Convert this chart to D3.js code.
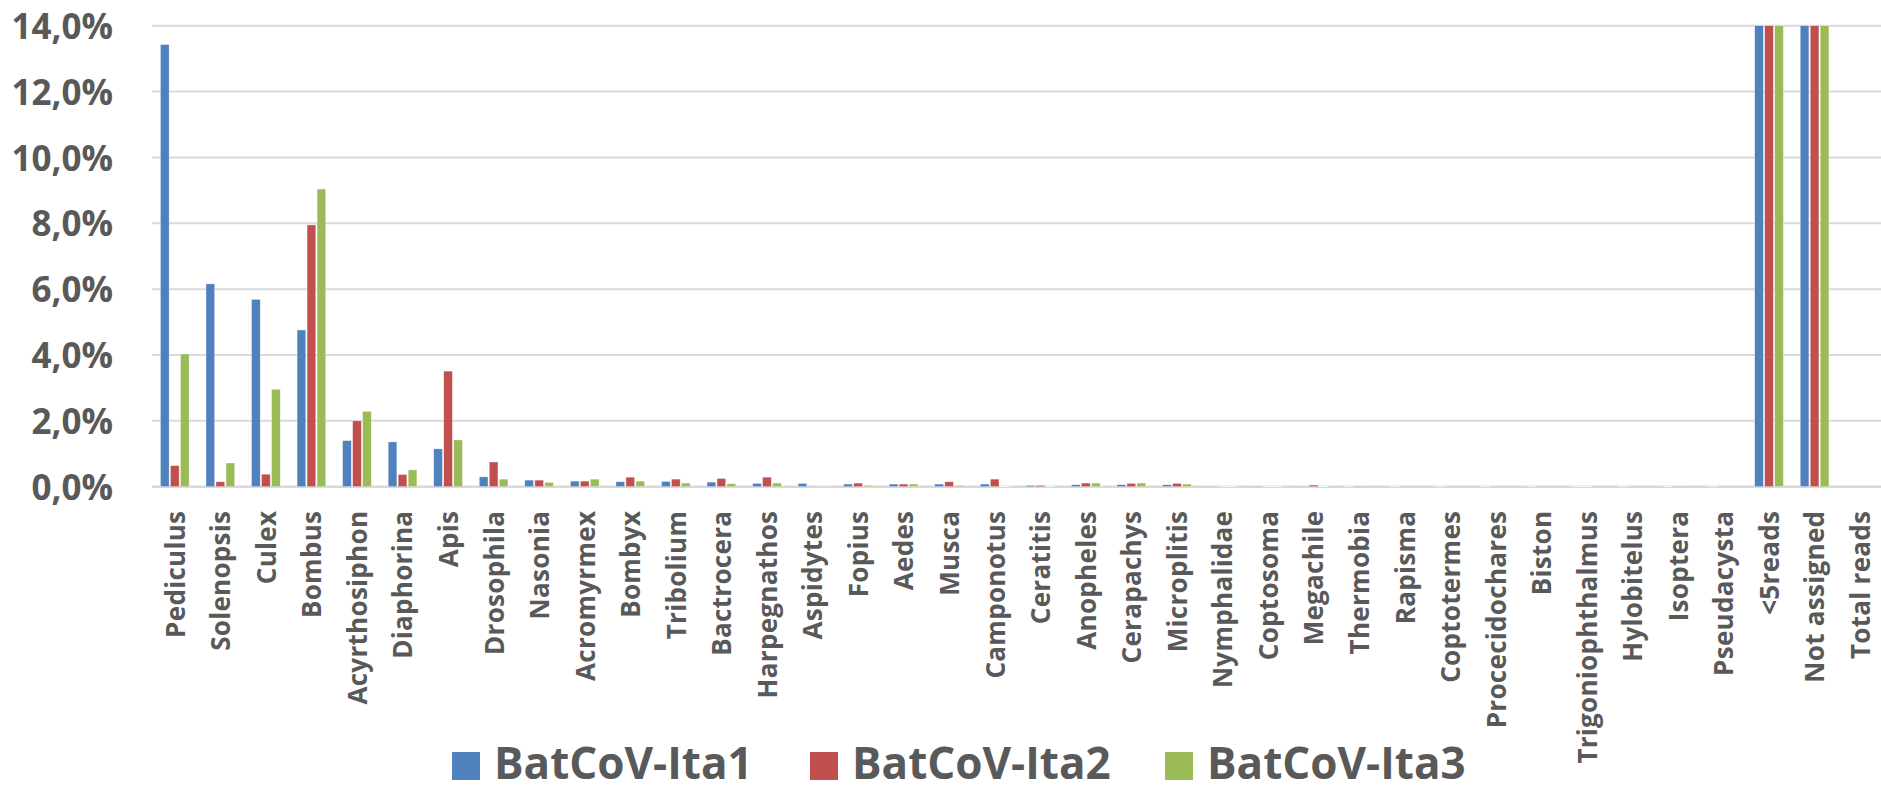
<!DOCTYPE html>
<html>
<head>
<meta charset="utf-8">
<script src="https://cdn.jsdelivr.net/npm/d3@7"></script>
<style>
  html, body { margin: 0; padding: 0; background: #ffffff; }
  svg { display: block; }
  text { font-family: "Open Sans", "Liberation Sans", sans-serif; font-weight: 700; fill: #595959; }
</style>
</head>
<body>
<svg id="chart" width="1881" height="791"></svg>
<script>
// Genera of the reads, in chart order
const categories = [
  "Pediculus", "Solenopsis", "Culex", "Bombus", "Acyrthosiphon", "Diaphorina", "Apis",
  "Drosophila", "Nasonia", "Acromyrmex", "Bombyx", "Tribolium", "Bactrocera", "Harpegnathos",
  "Aspidytes", "Fopius", "Aedes", "Musca", "Camponotus", "Ceratitis", "Anopheles",
  "Cerapachys", "Microplitis", "Nymphalidae", "Coptosoma", "Megachile", "Thermobia",
  "Rapisma", "Coptotermes", "Procecidochares", "Biston", "Trigoniophthalmus", "Hylobitelus",
  "Isoptera", "Pseudacysta", "<5reads", "Not assigned", "Total reads"
];

const seriesNames = ["BatCoV-Ita1", "BatCoV-Ita2", "BatCoV-Ita3"];

// Percentage of reads per genus (null = no bar)
const ita1 = [
  13.43, 6.16, 5.69, 4.76, 1.40, 1.36, 1.15,
  0.30, 0.20, 0.17, 0.15, 0.16, 0.14, 0.10,
  0.10, 0.08, 0.08, 0.08, 0.08, 0.04, 0.06,
  0.06, 0.06, 0.02, 0.02, 0.02, 0.01,
  0.01, 0.01, 0.01, 0.01, 0.01, 0.01,
  0.01, 0.01, 38.0, 45.0, null
];
const ita2 = [
  0.64, 0.15, 0.38, 7.95, 2.00, 0.37, 3.51,
  0.75, 0.20, 0.17, 0.29, 0.23, 0.25, 0.29,
  0.00, 0.11, 0.08, 0.15, 0.23, 0.04, 0.11,
  0.10, 0.10, 0.01, 0.01, 0.05, 0.02,
  0.00, 0.00, 0.00, 0.00, 0.01, 0.00,
  0.02, 0.00, 40.0, 42.0, null
];
const ita3 = [
  4.03, 0.72, 2.96, 9.04, 2.29, 0.51, 1.42,
  0.23, 0.13, 0.23, 0.17, 0.11, 0.09, 0.11,
  0.02, 0.04, 0.08, 0.04, 0.01, 0.01, 0.11,
  0.11, 0.08, 0.01, 0.01, 0.01, 0.00,
  0.00, 0.00, 0.00, 0.00, 0.00, 0.00,
  0.00, 0.00, 36.0, 47.0, null
];

const yTicks = [0, 2, 4, 6, 8, 10, 12, 14];
const colors = ["#4F81BD", "#C0504D", "#9BBB59"];

const seriesValues = [ita1, ita2, ita3];

const svg = d3.select("#chart");

const plotLeft = 152, plotTop = 25.7, plotBottom = 486.7;
const bandStep = 45.55;

const x0 = d3.scaleBand()
  .domain(categories)
  .range([plotLeft, plotLeft + bandStep * categories.length])
  .paddingInner(0).paddingOuter(0);

const x1 = d3.scaleBand()
  .domain(seriesNames)
  .range([-14.35, 14.35])
  .paddingInner(0.13).paddingOuter(0);

const y = d3.scaleLinear()
  .domain([0, 14])
  .range([plotBottom, plotTop])
  .clamp(true);

// Horizontal gridlines
svg.append("g")
  .selectAll("line")
  .data(yTicks)
  .join("line")
  .attr("x1", plotLeft)
  .attr("x2", 1881)
  .attr("y1", d => y(d))
  .attr("y2", d => y(d))
  .attr("stroke", "#D9D9D9")
  .attr("stroke-width", d => d === 0 ? 2.6 : 2);

// Y axis labels
const fmt = d => d.toFixed(1).replace(".", ",") + "%";
const yAxis = d3.axisLeft(y).tickValues(yTicks).tickFormat(fmt).tickSize(0).tickPadding(0);
const yg = svg.append("g").attr("transform", "translate(113,0)").call(yAxis);
yg.select(".domain").remove();
yg.selectAll("text")
  .attr("font-size", 35)
  .attr("font-family", "'Open Sans', sans-serif")
  .attr("font-weight", 700)
  .attr("fill", "#595959")
  .attr("dy", "0.36em");

// Bars
const groups = svg.append("g")
  .selectAll("g")
  .data(categories)
  .join("g")
  .attr("transform", d => `translate(${x0(d) + x0.bandwidth() / 2},0)`);

groups.selectAll("rect")
  .data((c, i) => seriesNames.map((s, k) => ({ s, k, v: seriesValues[k][i] })).filter(d => d.v !== null))
  .join("rect")
  .attr("x", d => x1(d.s))
  .attr("width", x1.bandwidth())
  .attr("y", d => y(d.v))
  .attr("height", d => y(0) - y(d.v))
  .attr("fill", d => colors[d.k])
  .attr("stroke", "#ffffff")
  .attr("stroke-opacity", 0.6)
  .attr("stroke-width", 0.6);

// Category labels
const xAxis = d3.axisBottom(x0).tickSize(0).tickPadding(0);
const xg = svg.append("g").attr("transform", `translate(0,${plotBottom})`).call(xAxis);
xg.select(".domain").remove();
xg.selectAll("text")
  .attr("font-size", 26)
  .attr("font-family", "'Open Sans', sans-serif")
  .attr("font-weight", 700)
  .attr("fill", "#595959")
  .attr("letter-spacing", 0.3)
  .attr("text-anchor", "end")
  .attr("transform", "translate(0,24) rotate(-90)")
  .attr("x", 0)
  .attr("y", 0)
  .attr("dy", "0.38em");

// Legend
const legendX = [452, 810, 1165];
const legend = svg.append("g")
  .selectAll("g")
  .data(seriesNames)
  .join("g")
  .attr("transform", (d, i) => `translate(${legendX[i]},752)`);

legend.append("rect")
  .attr("width", 28)
  .attr("height", 28)
  .attr("fill", (d, i) => colors[i]);

legend.append("text")
  .attr("x", 42)
  .attr("y", 27)
  .attr("font-size", 44)
  .text(d => d);
</script>
</body>
</html>
